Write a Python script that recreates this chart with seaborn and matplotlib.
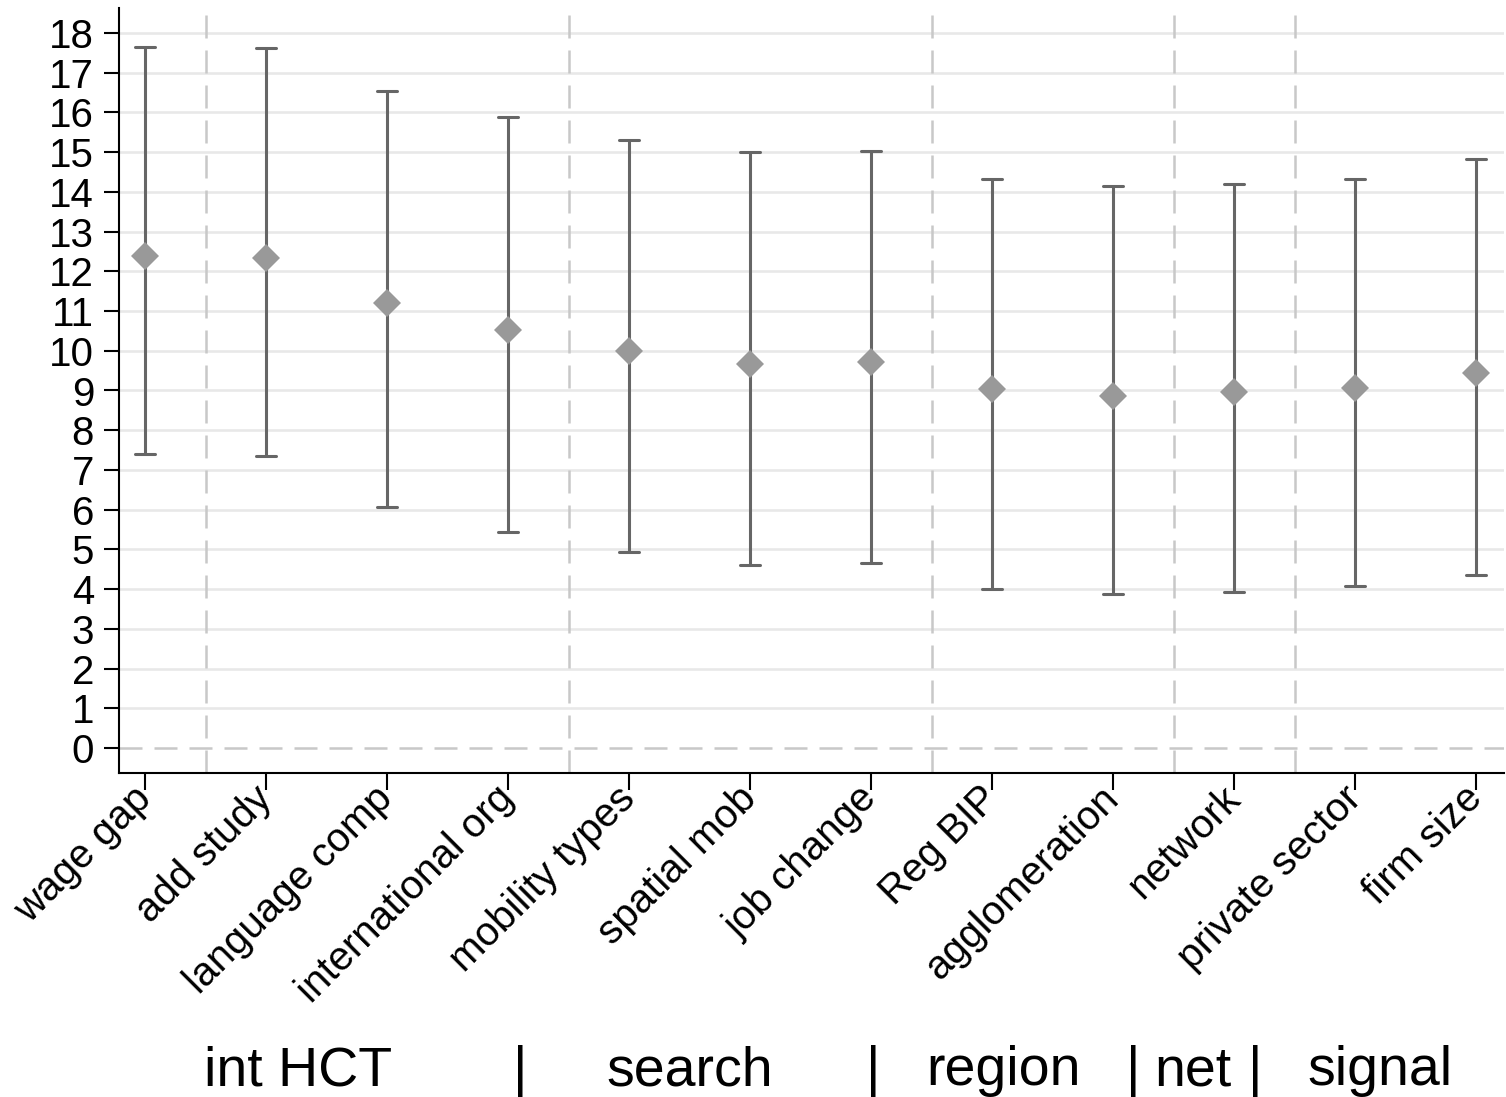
import numpy as np
import pandas as pd
import seaborn as sns
import matplotlib.pyplot as plt

# coefficient estimates with lower / upper bounds of the interval
labels = ["wage gap", "add study", "language comp", "international org",
          "mobility types", "spatial mob", "job change", "Reg BIP",
          "agglomeration", "network", "private sector", "firm size"]
estimate = [12.39, 12.34, 11.20, 10.52, 9.99, 9.67, 9.72, 9.04, 8.86, 8.96, 9.06, 9.44]
lower = [7.40, 7.35, 6.07, 5.44, 4.93, 4.61, 4.66, 4.00, 3.88, 3.93, 4.08, 4.36]
upper = [17.65, 17.62, 16.54, 15.89, 15.31, 15.00, 15.03, 14.33, 14.15, 14.20, 14.33, 14.83]

# number of variables in each block (separated by dashed lines)
group_sizes = [1, 3, 3, 2, 1, 2]
group_text = ["int HCT", "|", "search", "|", "region", "|", "net", "|", "signal"]
group_text_x = [298, 520, 690, 873, 1003, 1133, 1193, 1255, 1380]

y_ticks = list(range(0, 19))


def build_frame():
    """Long table: low, estimate, high per variable."""
    rows = []
    for lab, lo, est, hi in zip(labels, lower, estimate, upper):
        for v in (lo, est, hi):
            rows.append({"var": lab, "value": v})
    return pd.DataFrame(rows)


def main():
    sns.set_style("white")
    plt.rcParams["font.family"] = ["Liberation Sans", "DejaVu Sans"]
    plt.rcParams["text.color"] = "black"
    plt.rcParams["xtick.color"] = "black"
    plt.rcParams["ytick.color"] = "black"

    df = build_frame()
    fig = plt.figure(figsize=(15.06, 10.97), dpi=100)
    ax = fig.add_axes([119 / 1506, 1 - 773 / 1097, (1504 - 119) / 1506, (773 - 8) / 1097])

    # median of (low, est, high) = estimate, full range = interval
    sns.pointplot(data=df, x="var", y="value", order=labels,
                  estimator="median", errorbar=("pi", 100),
                  color="#999999", markers="D", linestyles="none",
                  capsize=0.16, markersize=14.5, markeredgewidth=0, zorder=4,
                  err_kws={"color": "#666666", "linewidth": 2.2, "zorder": 3},
                  ax=ax)

    ax.set_xlim(-0.215, len(labels) - 1 + 0.23)
    ax.set_ylim(-0.63, 18.63)
    ax.set_yticks(y_ticks)
    ax.set_xlabel("")
    ax.set_ylabel("")

    # horizontal grid, zero line dashed instead
    ax.grid(axis="y", color="#e8e8e8", linewidth=1.9)
    ax.yaxis.get_gridlines()[0].set_visible(False)
    ax.set_axisbelow(True)
    ax.axhline(0, color="#c8c8c8", linewidth=1.8, linestyle=(0, (9.2, 4.8)), zorder=1)

    # block separators
    for b in np.cumsum(group_sizes)[:-1] - 0.5:
        ax.axvline(b, color="#c8c8c8", linewidth=1.8, linestyle=(0, (9.2, 4.8)), zorder=1)

    for s in ["top", "right"]:
        ax.spines[s].set_visible(False)
    for s in ["left", "bottom"]:
        ax.spines[s].set_linewidth(1.5)
        ax.spines[s].set_color("black")

    ax.tick_params(axis="y", labelsize=29, length=11, width=1.5, pad=7, left=True)
    ax.tick_params(axis="x", labelsize=29, length=12, width=1.5, pad=2, bottom=True)
    ax.set_xticks(range(len(labels)))
    ax.set_xticklabels(labels, rotation=45, ha="right", va="center", rotation_mode="anchor")

    for t, px in zip(group_text, group_text_x):
        fig.text(px / 1506, 12 / 1097, t, ha="center", va="baseline", fontsize=40)

    fig.savefig("out.png", dpi=100)


if __name__ == "__main__":
    main()
